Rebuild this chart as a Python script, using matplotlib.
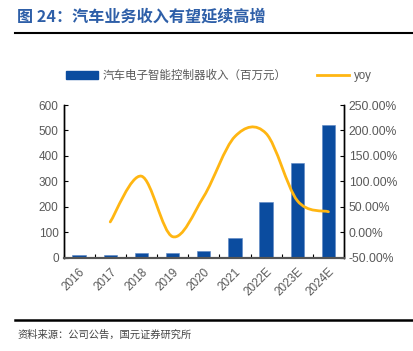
import numpy as np
import matplotlib
matplotlib.use('Agg')
import matplotlib.pyplot as plt
from matplotlib.path import Path
from matplotlib.patches import PathPatch, Patch
from matplotlib.lines import Line2D

plt.rcParams['font.family'] = ['Liberation Sans', 'Noto Sans CJK SC', 'DejaVu Sans']

years = ['2016', '2017', '2018', '2019', '2020', '2021', '2022E', '2023E', '2024E']
revenue = [8, 8, 17, 16, 26, 75, 220, 372, 521]
yoy = [None, 20, 110, -9, 70, 188, 194, 62, 40]

bar_color = '#0B4C9F'
line_color = '#FFB612'
tick_color = '#595959'


def smooth_path(xs, ys, t=1/6):
    # catmull-rom style bezier through the points, like excel's smoothed line
    verts = [(xs[0], ys[0])]
    codes = [Path.MOVETO]
    n = len(xs)
    for i in range(n - 1):
        p0 = (xs[max(i - 1, 0)], ys[max(i - 1, 0)])
        p1 = (xs[i], ys[i])
        p2 = (xs[i + 1], ys[i + 1])
        p3 = (xs[min(i + 2, n - 1)], ys[min(i + 2, n - 1)])
        c1 = (p1[0] + (p2[0] - p0[0]) * t, p1[1] + (p2[1] - p0[1]) * t)
        c2 = (p2[0] - (p3[0] - p1[0]) * t, p2[1] - (p3[1] - p1[1]) * t)
        verts += [c1, c2, p2]
        codes += [Path.CURVE4] * 3
    return Path(verts, codes)


fig = plt.figure(figsize=(4.13, 3.51), dpi=100)
ax = fig.add_axes([63.5 / 413, 1 - 257.5 / 351, 280.5 / 413, 152.5 / 351])
ax2 = ax.twinx()

x = np.arange(len(years))
ax.bar(x, revenue, width=0.43, color=bar_color, edgecolor='#5B86C4', linewidth=0.4, zorder=2)
ax.set_xlim(-0.5, len(years) - 0.5)
ax.set_ylim(0, 600)
ax.set_yticks(range(0, 601, 100))
ax.set_xticks(x)
ax.set_xticks(np.arange(-0.5, len(years), 1), minor=True)
ax.set_xticklabels(years, rotation=45, ha='right', rotation_mode='anchor')
ax.tick_params(axis='x', which='major', length=0, pad=6, labelsize=8.5, labelcolor=tick_color)
ax.tick_params(axis='x', which='minor', direction='in', length=3, width=0.8)
ax.tick_params(axis='y', direction='in', length=3, width=0.8, labelsize=8.5, labelcolor=tick_color)

ax2.set_ylim(-50, 250)
ax2.set_yticks(range(-50, 251, 50))
ax2.set_yticklabels(['%.2f%%' % v for v in range(-50, 251, 50)])
ax2.tick_params(axis='y', direction='in', length=3, width=0.8, labelsize=8.7, labelcolor=tick_color)

xs = [i for i, v in zip(x, yoy) if v is not None]
ys = [v for v in yoy if v is not None]
ax2.add_patch(PathPatch(smooth_path(xs, ys), facecolor='none', edgecolor=line_color,
                        linewidth=2, capstyle='round', zorder=3))

for a in (ax, ax2):
    a.spines['top'].set_visible(False)
    a.spines['left'].set_linewidth(1)
    a.spines['right'].set_linewidth(1)
    a.spines['bottom'].set_color('#555555')
    a.spines['bottom'].set_linewidth(1.5)

handles = [Patch(color=bar_color), Line2D([], [], color=line_color, lw=2)]
labels = ['汽车电子智能控制器收入（百万元）', 'yoy']
fig.legend(handles, labels, loc='center', bbox_to_anchor=(219 / 413, 1 - 76 / 351),
           ncol=2, frameon=False, fontsize=8.3, labelcolor=tick_color,
           handlelength=2.8, handleheight=0.7, columnspacing=2.6, handletextpad=0.4)

fig.text(17 / 413, 1 - 17 / 351, '图 24：汽车业务收入有望延续高增', color='#2E5FA8',
         fontsize=11.6, fontweight='bold', va='center', family=['Noto Sans CJK SC', 'DejaVu Sans'])
fig.add_artist(Line2D([15 / 413, 1], [1 - 33 / 351] * 2, color='black', lw=1.5))
fig.add_artist(Line2D([15 / 413, 1], [1 - 320 / 351] * 2, color='black', lw=1.8))
fig.text(17 / 413, 1 - 335 / 351, '资料来源：公司公告，国元证券研究所', color='#444444',
         fontsize=7.4, va='center', family=['Noto Sans CJK SC', 'DejaVu Sans'])

fig.savefig('out.png', dpi=100)
